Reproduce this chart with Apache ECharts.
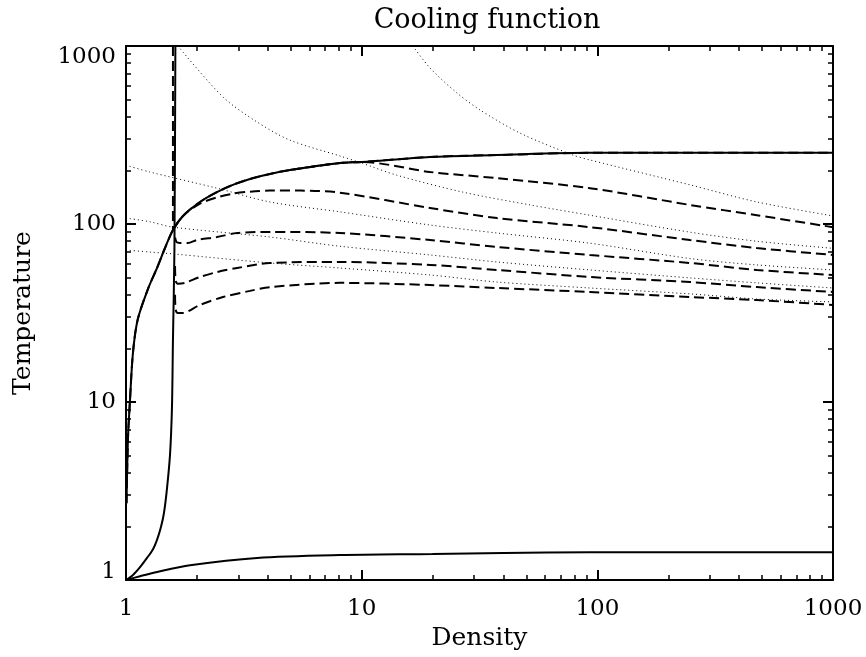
<!DOCTYPE html>
<html>
<head>
<meta charset="utf-8">
<script src="https://cdn.jsdelivr.net/npm/echarts@6/dist/echarts.min.js"></script>
<style>
html,body{margin:0;padding:0;background:#fff;}
#chart{width:866px;height:657px;}
</style>
</head>
<body>
<div id="chart"></div>
<script>
// ---- tick values / labels ----
const majorTicks = [1, 10, 100, 1000];
const minorTicks = [2,3,4,5,6,7,8,9,20,30,40,50,60,70,80,90,200,300,400,500,600,700,800,900];
const xTickLabels = [1, 10, 100, 1000];
const yTickLabelsMid = [10, 100];
const yTickLabelBottom = [1];
const yTickLabelTop = [1000];

// ---- solid curves [density, temperature] ----
const solidUpper = [[1.005,2.7],[1.02,6.35],[1.04,10.3],[1.07,18.8],[1.12,28.9],[1.24,43.2],[1.354,56.6],[1.464,73.3],[1.582,92.5],[1.745,111],[2.06,133],[2.43,151],[2.84,166],[3.36,179],[4.08,191],[4.96,201],[8.09,220],[10,223],[19.5,238],[37.5,244],[93,251],[1000,251]];
const solidRise = [[1,1],[1.071,1.067],[1.147,1.18],[1.228,1.33],[1.302,1.49],[1.354,1.68],[1.408,1.99],[1.449,2.38],[1.49,3.2],[1.537,5.03],[1.567,9.38],[1.582,22.3],[1.605,71.4],[1.62,1000]];
const solidLow = [[1,1],[1.147,1.05],[1.354,1.11],[1.87,1.21],[3.6,1.33],[8.09,1.38],[20,1.40],[40,1.42],[93,1.43],[1000,1.43]];

// ---- dashed curves ----
const dashedVertical = [[1.582,1000],[1.582,92.5]];
const dashed1 = [[4.96,201],[8.09,220],[10,223],[19.5,196],[37.5,181],[93,159],[247,128],[475,112],[1000,96]];
const dashed2 = [[1.582,92.5],[1.745,111],[2.06,130],[2.43,141],[2.84,148],[3.36,152],[4.08,154],[5.5,154],[8.09,150],[19.5,123],[37.5,108],[93,96],[247,81.3],[475,73.3],[1000,67]];
const dashed3 = [[1.615,84],[1.64,79],[1.69,78.2],[1.83,78.2],[2.0,81.3],[2.43,84.5],[2.96,89],[4.08,90.2],[8.09,89],[19.5,81.3],[37.5,74.3],[93,67],[247,60.4],[475,55.2],[1000,51.7]];
const dashed4 = [[1.615,58],[1.625,48],[1.66,46.2],[1.78,46.7],[2.06,50.4],[2.43,53.7],[2.96,56.6],[4.08,60.4],[8.09,61.2],[19.5,58.9],[37.5,55.2],[93,50.4],[247,47.2],[475,44.2],[1000,41.5]];
const dashed5 = [[1.615,40],[1.625,33],[1.66,31.6],[1.73,31.6],[2.06,35.1],[2.58,38.9],[3.36,42.1],[4.08,44.2],[8.09,46.7],[19.5,45.4],[37.5,43.7],[93,41.5],[247,38.9],[475,37.4],[1000,35.1]];

// ---- dotted curves ----
const dottedA = [[1.66,1000],[2.58,517],[3.6,374],[4.96,296],[8.09,241],[10,220],[14.1,188],[26.9,151],[51.8,128],[93,112],[247,90],[475,80],[1000,73]];
const dottedB = [[16.5,1000],[19.5,752],[25.4,544],[31.8,437],[47,324],[78.8,244],[93,229],[247,166],[475,133],[1000,111]];
const dottedC = [[1,214],[1.26,196],[2.43,159],[4.08,133],[8.09,117],[19.5,98.7],[37.5,89],[93,78],[247,64],[475,58.9],[1000,55.2]];
const dottedD = [[1,108],[1.26,103],[1.58,96],[4.08,84.5],[8.09,75],[19.5,67],[37.5,61.2],[93,55.2],[247,49.8],[475,46.7],[1000,43.7]];
const dottedE = [[1,71.4],[1.26,69.6],[1.61,67.8],[4.08,60.4],[8.09,56.6],[19.5,51.7],[37.5,47.2],[93,43.7],[247,40.5],[475,37.9],[1000,36.5]];

const FONT = 'DejaVu Serif';
const BLACK = '#000';
const plainNumber = function (v) { return String(Math.round(v)); };

function baseAxis(extra) {
  return Object.assign({
    type: 'log', logBase: 10, min: 1, max: 1000, gridIndex: 0, silent: true,
    axisLine: { show: false, onZero: false },
    axisTick: { show: false },
    axisLabel: { show: false },
    splitLine: { show: false },
    minorTick: { show: false },
    minorSplitLine: { show: false }
  }, extra);
}
function majorAxis(position, labels, extra) {
  return baseAxis(Object.assign({
    position: position,
    axisLine: { show: true, onZero: false, lineStyle: { color: BLACK, width: 2 } },
    axisTick: { show: true, inside: true, length: 10, customValues: majorTicks, lineStyle: { color: BLACK, width: 2 } },
    axisLabel: labels ? Object.assign({ show: true, color: BLACK, fontFamily: FONT, fontSize: 23, formatter: plainNumber }, labels) : { show: false }
  }, extra || {}));
}
function minorAxis(position) {
  return baseAxis({
    position: position,
    axisTick: { show: true, inside: true, length: 5, customValues: minorTicks, lineStyle: { color: BLACK, width: 1.5 } }
  });
}
function labelOnlyAxis(position, values, vAlign, lineHeight) {
  const lbl = { show: true, customValues: values, margin: 10, verticalAlign: vAlign, color: BLACK, fontFamily: FONT, fontSize: 23, formatter: plainNumber };
  if (lineHeight) lbl.lineHeight = lineHeight;
  return baseAxis({ position: position, axisLabel: lbl });
}

const dottedStyle = { color: BLACK, width: 1, type: [1, 3] };
const dashedStyle = { color: BLACK, width: 2, type: [10, 5] };
const solidStyle = { color: BLACK, width: 2, type: 'solid' };

function line(name, data, style, z, smooth) {
  return { type: 'line', name: name, data: data, xAxisIndex: 0, yAxisIndex: 0,
    symbol: 'none', showSymbol: false, silent: true, clip: true, z: z,
    smooth: smooth === undefined ? 0.3 : smooth,
    lineStyle: style };
}

const option = {
  backgroundColor: '#fff',
  animation: false,
  title: {
    text: 'Cooling function', left: 487, top: 7, padding: 0,
    textAlign: 'center', textVerticalAlign: 'top',
    textStyle: { color: BLACK, fontFamily: FONT, fontSize: 27, fontWeight: 'normal' }
  },
  grid: { left: 126, right: 33, top: 46, bottom: 77, containLabel: false, outerBoundsMode: 'none' },
  xAxis: [
    majorAxis('bottom', { customValues: xTickLabels, margin: 18 }, {
      name: 'Density', nameLocation: 'middle', nameGap: 45,
      nameTextStyle: { color: BLACK, fontFamily: FONT, fontSize: 25 }
    }),
    minorAxis('bottom'),
    majorAxis('top', null),
    minorAxis('top')
  ],
  yAxis: [
    majorAxis('left', { customValues: yTickLabelsMid, margin: 10 }, {
      name: 'Temperature', nameLocation: 'middle', nameGap: 90,
      nameTextStyle: { color: BLACK, fontFamily: FONT, fontSize: 25 }
    }),
    minorAxis('left'),
    majorAxis('right', null),
    minorAxis('right'),
    labelOnlyAxis('left', yTickLabelBottom, 'bottom', 16),
    labelOnlyAxis('left', yTickLabelTop, 'top')
  ],
  series: [
    line('dotted A', dottedA, dottedStyle, 1),
    line('dotted B', dottedB, dottedStyle, 1),
    line('dotted C', dottedC, dottedStyle, 1),
    line('dotted D', dottedD, dottedStyle, 1),
    line('dotted E', dottedE, dottedStyle, 1),
    line('dashed vertical', dashedVertical, dashedStyle, 2, false),
    line('dashed 0', solidUpper, dashedStyle, 2),
    line('dashed 1', dashed1, dashedStyle, 2),
    line('dashed 2', dashed2, dashedStyle, 2),
    line('dashed 3', dashed3, dashedStyle, 2),
    line('dashed 4', dashed4, dashedStyle, 2),
    line('dashed 5', dashed5, dashedStyle, 2),
    line('solid upper', solidUpper, solidStyle, 3),
    line('solid rise', solidRise, solidStyle, 3),
    line('solid low', solidLow, solidStyle, 3)
  ]
};

const chart = echarts.init(document.getElementById('chart'), null, { renderer: 'canvas' });
chart.setOption(option);
</script>
</body>
</html>
